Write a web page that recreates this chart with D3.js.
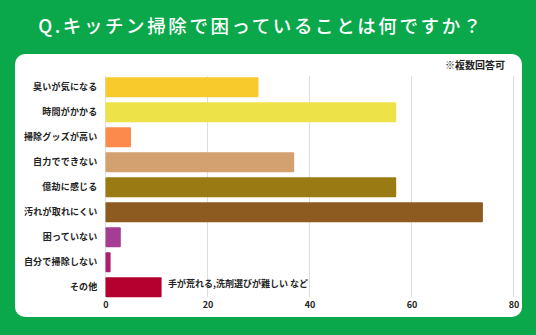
<!DOCTYPE html>
<html>
<head>
<meta charset="utf-8">
<script src="https://cdn.jsdelivr.net/npm/d3@7"></script>
<style>
  html, body { margin: 0; padding: 0; background: #0aa84a; }
  svg { display: block; }
  text { font-family: "Noto Sans CJK JP", "Noto Sans", sans-serif; }
</style>
</head>
<body>
<svg id="chart" width="536" height="335"></svg>
<script>
// Survey answers (multiple choice allowed)
const categories = ["臭いが気になる", "時間がかかる", "掃除グッズが高い", "自力でできない", "億劫に感じる", "汚れが取れにくい", "困っていない", "自分で掃除しない", "その他"];
const counts = [30, 57, 5, 37, 57, 74, 3, 1, 11];
const barColors = ["#f9ca2c", "#eee249", "#fc8a4d", "#d3a06f", "#9a7b13", "#8d5a1f", "#a53d94", "#ad1f6e", "#b5002f"];
const tickValues = [0, 20, 40, 60, 80];
const titleText = "Q.キッチン掃除で困っていることは何ですか？";
const noteText = "※複数回答可";
const otherNote = "手が荒れる,洗剤選びが難しい  など";

const svg = d3.select("#chart");
const W = 536, H = 335;

svg.append("rect").attr("width", W).attr("height", H).attr("fill", "#0aa84a");

// title
svg.append("text")
  .attr("x", 261).attr("y", 33)
  .attr("text-anchor", "middle")
  .attr("fill", "#ffffff")
  .attr("font-size", 18.5)
  .attr("font-weight", 500)
  .attr("letter-spacing", 2.6)
  .text(titleText);

// white panel
svg.append("rect")
  .attr("x", 15).attr("y", 54)
  .attr("width", 507).attr("height", 263)
  .attr("rx", 10).attr("ry", 10)
  .attr("fill", "#ffffff");

svg.append("text")
  .attr("x", 505).attr("y", 69)
  .attr("text-anchor", "end")
  .attr("fill", "#222")
  .attr("font-size", 10)
  .attr("font-weight", 700)
  .text(noteText);

const x = d3.scaleLinear().domain([0, 80]).range([105.5, 513.5]);
const y = d3.scaleBand().domain(categories).range([74.8, 299.8]).paddingInner(0.2).paddingOuter(0.1);

// vertical grid lines
svg.append("g")
  .selectAll("line")
  .data(tickValues)
  .join("line")
  .attr("x1", d => x(d)).attr("x2", d => x(d))
  .attr("y1", 76).attr("y2", 297)
  .attr("stroke", "#dedede")
  .attr("stroke-width", 1);

// x axis labels
const xAxis = d3.axisBottom(x).tickValues(tickValues).tickSize(0).tickPadding(0);
const gx = svg.append("g").attr("transform", "translate(0,302)").call(xAxis);
gx.select(".domain").remove();
gx.selectAll("text")
  .attr("dy", "0.71em")
  .attr("fill", "#222")
  .attr("font-size", 9)
  .attr("font-weight", 700)
  .style("font-family", "'Noto Sans CJK JP', sans-serif");

// category labels
const yAxis = d3.axisLeft(y).tickSize(0).tickPadding(0);
const gy = svg.append("g").attr("transform", "translate(97.5,0)").call(yAxis);
gy.select(".domain").remove();
gy.selectAll("text")
  .attr("fill", "#222")
  .attr("font-size", 9)
  .attr("font-weight", 700)
  .attr("letter-spacing", 0.2)
  .style("font-family", "'Noto Sans CJK JP', sans-serif");

// bars
svg.append("g")
  .selectAll("rect")
  .data(categories)
  .join("rect")
  .attr("x", x(0))
  .attr("y", d => y(d))
  .attr("width", (d, i) => x(counts[i]) - x(0))
  .attr("height", y.bandwidth())
  .attr("rx", 1)
  .attr("fill", (d, i) => barColors[i]);

// note next to "other"
svg.append("text")
  .attr("x", 168)
  .attr("y", y("その他") + y.bandwidth() / 2 - 3)
  .attr("dominant-baseline", "middle")
  .attr("fill", "#222")
  .attr("font-size", 9)
  .attr("font-weight", 700)
  .text(otherNote);
</script>
</body>
</html>
